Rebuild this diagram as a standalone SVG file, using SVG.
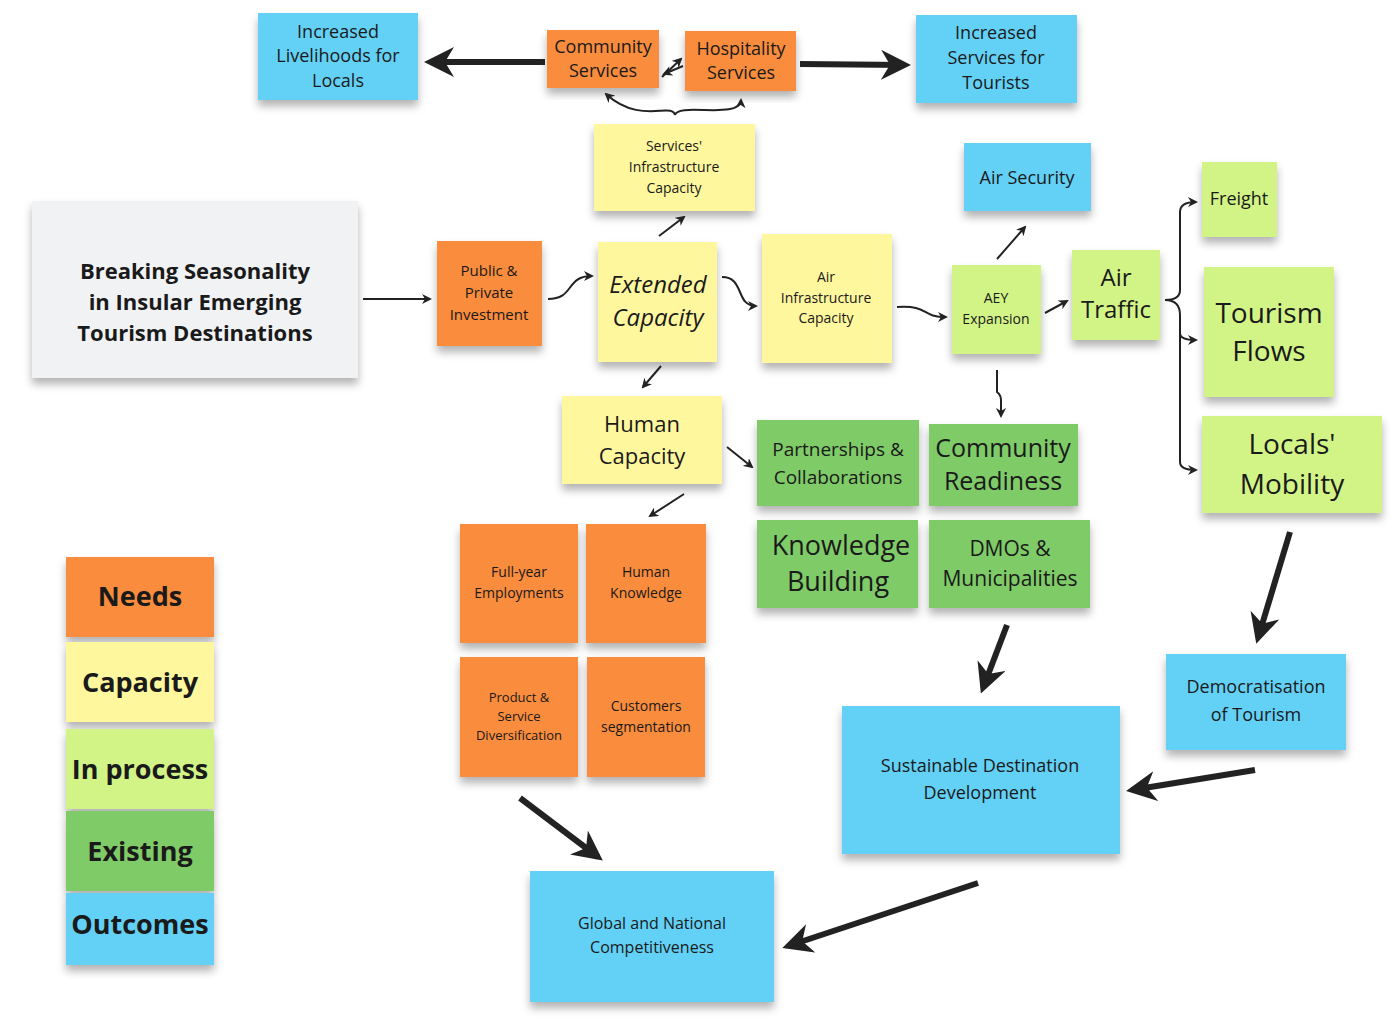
<svg xmlns="http://www.w3.org/2000/svg" width="1398" height="1020" viewBox="0 0 1398 1020">
<defs>
<filter id="sh" x="-10%" y="-10%" width="120%" height="130%"><feDropShadow dx="0" dy="6" stdDeviation="4" flood-color="#000" flood-opacity="0.3"/></filter>
<marker id="a" viewBox="0 0 10 10" refX="8" refY="5" markerWidth="5" markerHeight="5" orient="auto"><path d="M0,0 L10,5 L0,10 L3,5 z" fill="#222"/></marker>
<marker id="b" viewBox="0 0 10 10" refX="8" refY="5" markerWidth="5" markerHeight="5" orient="auto"><path d="M0,0 L10,5 L0,10 L3,5 z" fill="#222"/></marker>
</defs>
<style>
text{font-family:"Open Sans","Noto Sans",sans-serif;fill:#1a1a1a;text-anchor:middle}
.o{fill:#F98C3C}.y{fill:#FFF79E}.l{fill:#D2F486}.g{fill:#7FCB67}.c{fill:#64D1F6}.w{fill:#F1F2F4}
rect{filter:url(#sh)}
.t{fill:none;stroke:#222;stroke-width:2;marker-end:url(#a)}
.k{fill:none;stroke:#222;stroke-width:6;marker-end:url(#b)}
.bold{font-weight:bold}
</style>
<rect width="1398" height="1020" fill="#fff" style="filter:none"/>
<g id="n1"><rect class="c" x="258" y="13" width="160" height="87"/><text font-size="18"><tspan x="338" y="38">Increased</tspan><tspan x="338" y="62">Livelihoods for</tspan><tspan x="338" y="87">Locals</tspan></text></g>
<g id="n2"><rect class="o" x="547" y="30" width="112" height="58"/><text font-size="18"><tspan x="603" y="53">Community</tspan><tspan x="603" y="77">Services</tspan></text></g>
<g id="n3"><rect class="o" x="685" y="31" width="111" height="60"/><text font-size="18"><tspan x="741" y="55">Hospitality</tspan><tspan x="741" y="79">Services</tspan></text></g>
<g id="n4"><rect class="c" x="916" y="15" width="161" height="88"/><text font-size="18"><tspan x="996" y="39">Increased</tspan><tspan x="996" y="64">Services for</tspan><tspan x="996" y="89">Tourists</tspan></text></g>
<g id="n5"><rect class="y" x="594" y="124" width="161" height="87"/><text font-size="14"><tspan x="674" y="151">Services'</tspan><tspan x="674" y="172">Infrastructure</tspan><tspan x="674" y="193">Capacity</tspan></text></g>
<g id="n6"><rect class="w" x="32" y="201" width="326" height="177"/><text font-size="22" class="bold"><tspan x="195" y="279">Breaking Seasonality</tspan><tspan x="195" y="310">in Insular Emerging</tspan><tspan x="195" y="341">Tourism Destinations</tspan></text></g>
<g id="n7"><rect class="o" x="437" y="241" width="105" height="105"/><text font-size="15"><tspan x="489" y="276">Public &amp;</tspan><tspan x="489" y="298">Private</tspan><tspan x="489" y="320">Investment</tspan></text></g>
<g id="n8"><rect class="y" x="598" y="242" width="119" height="120"/><text font-size="24" font-style="italic"><tspan x="658" y="293">Extended</tspan><tspan x="658" y="326">Capacity</tspan></text></g>
<g id="n9"><rect class="y" x="762" y="234" width="130" height="129"/><text font-size="14"><tspan x="826" y="282">Air</tspan><tspan x="826" y="303">Infrastructure</tspan><tspan x="826" y="323">Capacity</tspan></text></g>
<g id="n10"><rect class="l" x="952" y="265" width="89" height="89"/><text font-size="14"><tspan x="996" y="303">AEY</tspan><tspan x="996" y="324">Expansion</tspan></text></g>
<g id="n11"><rect class="l" x="1072" y="250" width="88" height="90"/><text font-size="24"><tspan x="1116" y="286">Air</tspan><tspan x="1116" y="318">Traffic</tspan></text></g>
<g id="n12"><rect class="c" x="964" y="143" width="127" height="68"/><text font-size="18" x="1027" y="184">Air Security</text></g>
<g id="n13"><rect class="l" x="1202" y="162" width="75" height="75"/><text font-size="18" x="1239" y="205">Freight</text></g>
<g id="n14"><rect class="l" x="1204" y="267" width="130" height="130"/><text font-size="28"><tspan x="1269" y="323">Tourism</tspan><tspan x="1269" y="361">Flows</tspan></text></g>
<g id="n15"><rect class="l" x="1202" y="416" width="180" height="97"/><text font-size="28"><tspan x="1292" y="454">Locals'</tspan><tspan x="1292" y="494">Mobility</tspan></text></g>
<g id="n16"><rect class="y" x="562" y="396" width="160" height="88"/><text font-size="22"><tspan x="642" y="432">Human</tspan><tspan x="642" y="464">Capacity</tspan></text></g>
<g id="n17"><rect class="g" x="757" y="420" width="162" height="86"/><text font-size="19"><tspan x="838" y="456">Partnerships &amp;</tspan><tspan x="838" y="484">Collaborations</tspan></text></g>
<g id="n18"><rect class="g" x="929" y="424" width="149" height="82"/><text font-size="25"><tspan x="1003" y="457">Community</tspan><tspan x="1003" y="490">Readiness</tspan></text></g>
<g id="n19"><rect class="g" x="757" y="520" width="161" height="88"/><text font-size="27"><tspan x="841" y="555">Knowledge</tspan><tspan x="838" y="591">Building</tspan></text></g>
<g id="n20"><rect class="g" x="929" y="520" width="161" height="88"/><text font-size="21"><tspan x="1010" y="556">DMOs &amp;</tspan><tspan x="1010" y="586">Municipalities</tspan></text></g>
<g id="n21"><rect class="o" x="460" y="524" width="118" height="119"/><text font-size="14"><tspan x="519" y="577">Full-year</tspan><tspan x="519" y="598">Employments</tspan></text></g>
<g id="n22"><rect class="o" x="586" y="524" width="120" height="119"/><text font-size="14"><tspan x="646" y="577">Human</tspan><tspan x="646" y="598">Knowledge</tspan></text></g>
<g id="n23"><rect class="o" x="460" y="657" width="118" height="120"/><text font-size="13"><tspan x="519" y="702">Product &amp;</tspan><tspan x="519" y="721">Service</tspan><tspan x="519" y="740">Diversification</tspan></text></g>
<g id="n24"><rect class="o" x="587" y="657" width="118" height="120"/><text font-size="14"><tspan x="646" y="711">Customers</tspan><tspan x="646" y="732">segmentation</tspan></text></g>
<g id="n25"><rect class="c" x="1166" y="654" width="180" height="96"/><text font-size="18"><tspan x="1256" y="693">Democratisation</tspan><tspan x="1256" y="721">of Tourism</tspan></text></g>
<g id="n26"><rect class="c" x="842" y="706" width="278" height="148"/><text font-size="18"><tspan x="980" y="772">Sustainable Destination</tspan><tspan x="980" y="799">Development</tspan></text></g>
<g id="n27"><rect class="c" x="530" y="871" width="244" height="131"/><text font-size="16"><tspan x="652" y="929">Global and National</tspan><tspan x="652" y="953">Competitiveness</tspan></text></g>
<g id="legend">
<rect class="o" x="66" y="557" width="148" height="80"/><text font-size="27" class="bold" x="140" y="606">Needs</text>
<rect class="y" x="66" y="642" width="148" height="80"/><text font-size="27" class="bold" x="140" y="692">Capacity</text>
<rect class="l" x="66" y="729" width="148" height="80"/><text font-size="27" class="bold" x="140" y="779">In process</text>
<rect class="g" x="66" y="811" width="148" height="80"/><text font-size="27" class="bold" x="140" y="861">Existing</text>
<rect class="c" x="66" y="893" width="148" height="72"/><text font-size="27" class="bold" x="140" y="934">Outcomes</text>
</g>
<g id="connectors">
<path class="k" d="M545,62 L430,62"/>
<path class="k" d="M800,64 L905,65"/>
<path class="k" d="M1290,532 L1258,638"/>
<path class="k" d="M1255,770 L1132,790"/>
<path class="k" d="M1007,625 L983,688"/>
<path class="k" d="M520,798 L598,857"/>
<path class="k" d="M978,883 L788,946"/>
<path class="t" d="M363,299 L430,299"/>
<path class="t" d="M548,299 C575,299 565,276 592,276"/>
<path class="t" d="M722,277 C745,277 735,306 756,306"/>
<path class="t" d="M897,307 C930,305 920,317 946,317"/>
<path class="t" d="M659,236 L684,217"/>
<path class="t" d="M661,366 L643,387"/>
<path class="t" d="M727,447 L752,467"/>
<path class="t" d="M684,494 L650,516"/>
<path class="t" d="M997,370 L997,392 Q1001,395 1001,400 L1001,416"/>
<path class="t" d="M1045,313 L1067,301"/>
<path class="t" d="M997,259 L1025,227"/>
<path class="t" d="M1165,300 Q1180,300 1180,290 L1180,212 Q1180,202 1196,202"/>
<path class="t" d="M1165,300 Q1180,300 1180,315 L1180,333 Q1180,340 1196,340"/>
<path class="t" d="M1180,330 Q1180,345 1180,350 L1180,462 Q1180,470 1196,470"/>
<path class="t" d="M675,115 C672,102 640,125 606,94"/>
<path class="t" d="M675,115 C678,102 740,120 741,100"/>
<path class="t" d="M662,77 L681,59"/>
<path class="t" d="M683,66 L664,74"/>
</g>
</svg>
